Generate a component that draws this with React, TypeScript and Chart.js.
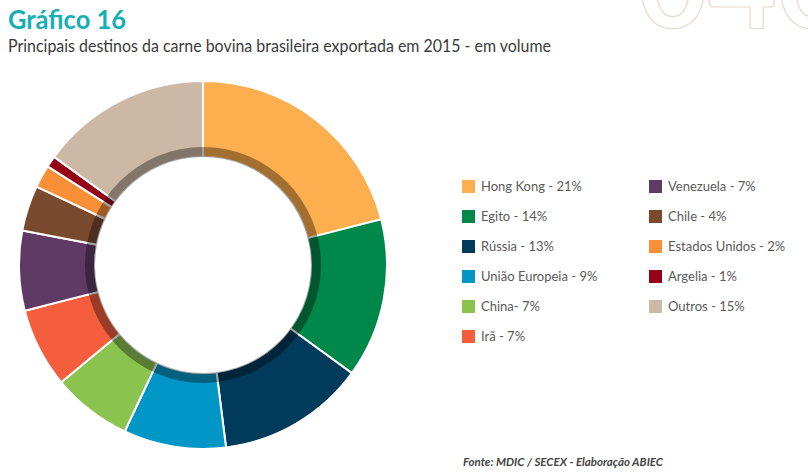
import React, { useEffect, useRef } from "react";
import { Chart, registerables } from "chart.js";

Chart.register(...registerables);

const categories = ["Hong Kong", "Egito", "Rússia", "União Europeia", "China", "Irã", "Venezuela", "Chile", "Estados Unidos", "Argelia", "Outros"];
const shares = [21, 14, 13, 9, 7, 7, 7, 4, 2, 1, 15];
const legendLabels = ["Hong Kong - 21%", "Egito - 14%", "Rússia - 13%", "União Europeia - 9%", "China- 7%", "Irã - 7%", "Venezuela - 7%", "Chile - 4%", "Estados Unidos - 2%", "Argelia - 1%", "Outros - 15%"];
const colors = ["#FDAE4E", "#00884A", "#003B5C", "#0096C6", "#8BC34F", "#F55E3C", "#5E3A64", "#7A4A2E", "#F98F37", "#950016", "#CDB8A5"];

const TITLE = "Gráfico 16";
const SUBTITLE = "Principais destinos da carne bovina brasileira exportada em 2015 - em volume";
const SOURCE = "Fonte: MDIC / SECEX - Elaboração ABIEC";

function FitText({ text, width, style }: { text: string; width: number; style: React.CSSProperties }) {
  const ref = useRef<HTMLSpanElement>(null);
  useEffect(() => {
    const el = ref.current;
    if (!el) return;
    el.style.transform = "none";
    const w = el.getBoundingClientRect().width;
    if (w > 0) el.style.transform = `scaleX(${width / w})`;
  }, [text, width]);
  return (
    <span ref={ref} style={{ display: "inline-block", whiteSpace: "nowrap", transformOrigin: "0 0", ...style }}>
      {text}
    </span>
  );
}

const shadowRing = {
  id: "shadowRing",
  afterDatasetsDraw(chart: any) {
    const meta = chart.getDatasetMeta(0);
    const arc = meta.data[0];
    if (!arc) return;
    const { x, y, innerRadius } = arc.getProps(["x", "y", "innerRadius"], true);
    const ctx = chart.ctx;
    ctx.save();
    ctx.beginPath();
    ctx.arc(x, y, innerRadius + 10, 0, Math.PI * 2);
    ctx.arc(x, y, innerRadius, 0, Math.PI * 2, true);
    ctx.closePath();
    ctx.fillStyle = "rgba(0,0,0,0.36)";
    ctx.fill();
    ctx.restore();
  },
};

export default function App() {
  const canvasRef = useRef<HTMLCanvasElement>(null);
  useEffect(() => {
    document.body.style.margin = "0";
    const chart = new Chart(canvasRef.current!, {
      type: "doughnut",
      data: {
        labels: categories,
        datasets: [
          {
            data: shares,
            backgroundColor: colors,
            borderColor: "#ffffff",
            borderWidth: 2,
          },
        ],
      },
      options: {
        responsive: false,
        animation: false,
        cutout: "58.7%",
        layout: { padding: 0 },
        plugins: { legend: { display: false }, tooltip: { enabled: false }, title: { display: false } },
      },
      plugins: [shadowRing],
    });
    return () => chart.destroy();
  }, []);

  const col1 = legendLabels.slice(0, 6);
  const col2 = legendLabels.slice(6);

  return (
    <div style={{ position: "relative", width: 808, height: 475, overflow: "hidden", background: "#fff", fontFamily: "Lato, 'Open Sans', sans-serif" }}>
      <span
        style={{
          position: "absolute",
          left: 638,
          top: -78,
          fontSize: 120,
          fontWeight: 700,
          color: "transparent",
          WebkitTextStroke: "1.2px #ead9cc",
          whiteSpace: "nowrap",
          fontFamily: "Lato, sans-serif",
          lineHeight: 1,
        }}
      >
        040
      </span>
      <div style={{ position: "absolute", left: 8, top: 4, lineHeight: "30px" }}>
        <FitText text={TITLE} width={118} style={{ fontSize: 26, fontWeight: 700, color: "#17AEB6" }} />
      </div>
      <div style={{ position: "absolute", left: 8, top: 36, lineHeight: "20px" }}>
        <FitText text={SUBTITLE} width={543} style={{ fontSize: 17, color: "#3a3a3a" }} />
      </div>
      <canvas ref={canvasRef} width={370} height={370} style={{ position: "absolute", left: 18, top: 80, width: 370, height: 370 }} />
      {[col1, col2].map((col, ci) =>
        col.map((label, ri) => {
          const idx = ci * 6 + ri;
          const top = 179 + ri * 30;
          const left = ci === 0 ? 462 : 649;
          return (
            <div key={idx} style={{ position: "absolute", left, top, height: 14, display: "flex", alignItems: "center" }}>
              <div style={{ width: 13, height: 13, background: colors[idx], marginRight: 6 }} />
              <span style={{ fontSize: 13, color: "#5a5a5a", whiteSpace: "nowrap" }}>{label}</span>
            </div>
          );
        })
      )}
      <div style={{ position: "absolute", left: 463, top: 452, lineHeight: "16px" }}>
        <FitText text={SOURCE} width={200} style={{ fontSize: 12, fontStyle: "italic", fontWeight: 700, color: "#444" }} />
      </div>
    </div>
  );
}
